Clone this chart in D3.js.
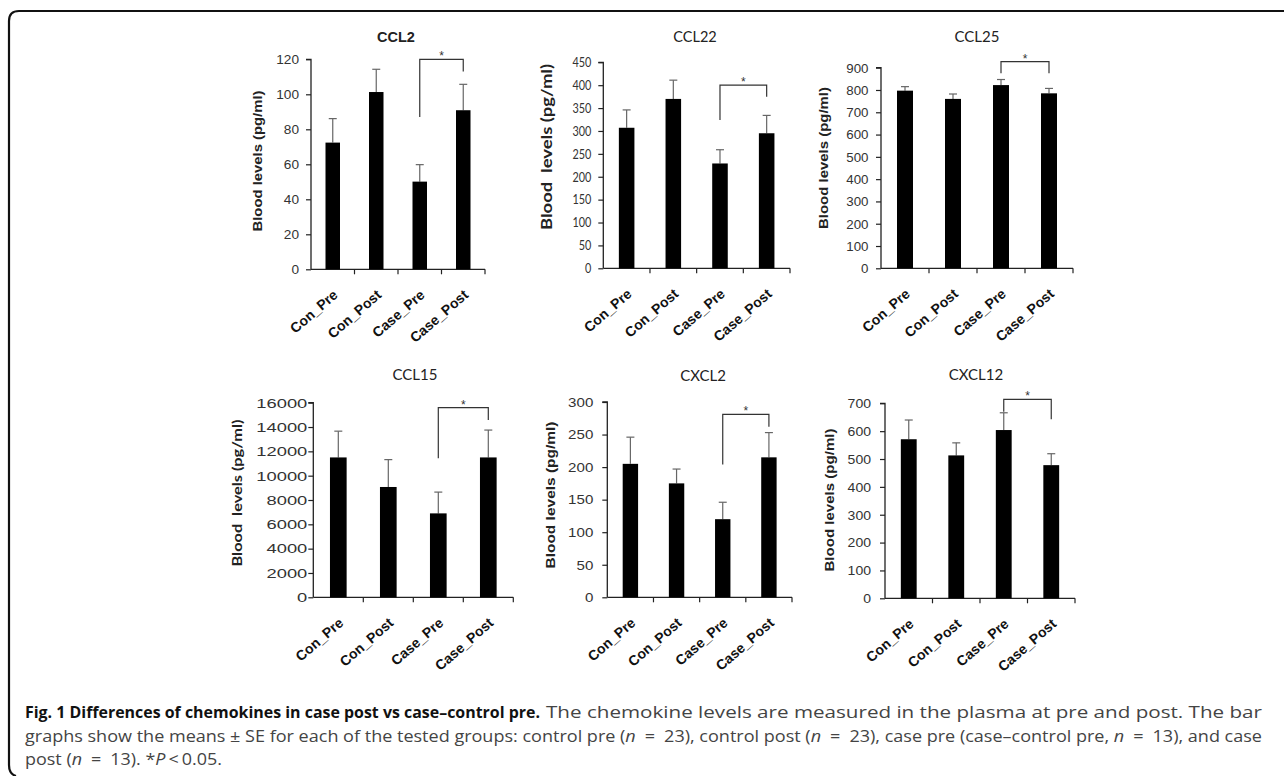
<!DOCTYPE html>
<html><head><meta charset="utf-8">
<script src="https://cdn.jsdelivr.net/npm/d3@7"></script>
<style>body{margin:0;background:#fff}</style>
</head><body>
<svg id="c" width="1284" height="776" xmlns="http://www.w3.org/2000/svg"></svg>
<script>
// ---------- DATA ----------
const categories = ["Con_Pre", "Con_Post", "Case_Pre", "Case_Post"];
const panelTitles = ["CCL2", "CCL22", "CCL25", "CCL15", "CXCL2", "CXCL12"];
const yAxisLabels = ["Blood levels (pg/ml)", "Blood  levels (pg/ml)", "Blood levels (pg/ml)",
                     "Blood  levels (pg/ml)", "Blood levels (pg/ml)", "Blood levels (pg/ml)"];

const ccl2Mean   = [72.4, 101.3, 50.1, 90.9];
const ccl2SE     = [13.7, 13.0, 9.7, 14.8];
const ccl22Mean  = [307, 370, 229, 295];
const ccl22SE    = [39, 41, 30, 39];
const ccl25Mean  = [797, 760, 822, 785];
const ccl25SE    = [18, 22, 25, 22];
const ccl15Mean  = [11500, 9070, 6900, 11500];
const ccl15SE    = [2160, 2250, 1750, 2250];
const cxcl2Mean  = [205, 175, 120, 215];
const cxcl2SE    = [41, 22, 26, 38];
const cxcl12Mean = [571, 513, 604, 478];
const cxcl12SE   = [69, 45, 62, 41];

const yMaxes = [120, 450, 900, 16000, 300, 700];
const yTickSteps = [20, 50, 100, 2000, 50, 100];

// significance bracket (Case_Pre vs Case_Post), in data units
const sigTop      = [120, 400, 927, 15600, 281, 714];
const sigLeftEnd  = [87, 324, 875, 11425, 204, 670];
const sigRightEnd = [113, 375, 875, 14575, 262, 643];
const sigLabel = "*";

const captionBold = "Fig. 1 Differences of chemokines in case post vs case\u2013control pre.";
const captionRest1 = "The chemokine levels are measured in the plasma at pre and post. The bar";
const captionLine2 = [["graphs show the means \u00b1 SE for each of the tested groups: control pre (", "n"], ["n", "i"], ["\u2002=\u200223), control post (", "n"], ["n", "i"],
   ["\u2002=\u200223), case pre (case\u2013control pre, ", "n"], ["n", "i"], ["\u2002=\u200213), and case", "n"]];
const captionLine3 = [["post (", "n"], ["n", "i"], ["\u2002=\u200213). *", "n"], ["P", "i"], ["\u2009<\u20090.05.", "n"]];

const means = [ccl2Mean, ccl22Mean, ccl25Mean, ccl15Mean, cxcl2Mean, cxcl12Mean];
const ses = [ccl2SE, ccl22SE, ccl25SE, ccl15SE, cxcl2SE, cxcl12SE];

// ---------- LAYOUT / STYLE ----------
const ARIAL = "'Liberation Sans', Arial, sans-serif";
const CALIBRI = "Lato, 'Open Sans', sans-serif";
const CAP = "'Open Sans', 'Noto Sans', sans-serif";
const layout = [
  {x0:311, x1:485, yTop:59.3, yBot:269.3, tx:396, ty:42, tFont:ARIAL, tW:"bold", tS:14.5,
   lx:262, ly:161, lFont:ARIAL, lS:12.5, lLen:141, tickFont:ARIAL, tickS:13, digitW:7.6, gap:12},
  {x0:603.3, x1:790, yTop:62.3, yBot:268.3, tx:695, ty:42, tFont:CALIBRI, tW:"normal", tS:14.5,
   lx:552, ly:147, lFont:CALIBRI, lS:14.5, lLen:166, tickFont:CALIBRI, tickS:13.5, digitW:6.3, gap:12},
  {x0:881, x1:1073, yTop:67.7, yBot:268.3, tx:977, ty:42, tFont:CALIBRI, tW:"normal", tS:15,
   lx:828, ly:158, lFont:ARIAL, lS:13, lLen:142, tickFont:ARIAL, tickS:13.5, digitW:7.4, gap:12.5},
  {x0:313.3, x1:513.3, yTop:402.7, yBot:597.3, tx:415, ty:380, tFont:CALIBRI, tW:"normal", tS:15,
   lx:242, ly:493, lFont:CALIBRI, lS:13.5, lLen:147, tickFont:ARIAL, tickS:13.5, digitW:10.2, gap:6},
  {x0:607.3, x1:792, yTop:402, yBot:597.3, tx:703, ty:381, tFont:CALIBRI, tW:"normal", tS:15,
   lx:555, ly:495, lFont:ARIAL, lS:13, lLen:147, tickFont:ARIAL, tickS:13.5, digitW:8.4, gap:14},
  {x0:885, x1:1075, yTop:403.3, yBot:598.3, tx:976, ty:380, tFont:CALIBRI, tW:"normal", tS:15,
   lx:834, ly:500, lFont:ARIAL, lS:13, lLen:143, tickFont:ARIAL, tickS:13.5, digitW:7.8, gap:14}
];

const svg = d3.select("#c");

// frame
svg.append("path")
  .attr("d", "M1284,11 L19,11 Q9,11 9,21 L9,765 Q9,774 16,776")
  .attr("fill", "none").attr("stroke", "#111").attr("stroke-width", 2.2);

layout.forEach((L, i) => {
  const g = svg.append("g");
  const x = d3.scaleBand().domain(categories).range([L.x0, L.x1]).padding(0);
  const y = d3.scaleLinear().domain([0, yMaxes[i]]).range([L.yBot, L.yTop]);
  const bw = x.bandwidth() / 3;

  // y axis
  const yAxis = d3.axisLeft(y).tickValues(d3.range(0, yMaxes[i] + 1e-9, yTickSteps[i]))
    .tickSize(5).tickPadding(L.gap - 5).tickFormat(d3.format("d"));
  const ya = g.append("g").attr("transform", `translate(${L.x0},0)`).call(yAxis);
  ya.select(".domain").attr("stroke", "#222").attr("stroke-width", 1.3).attr("d", `M-5,${L.yTop}H0V${L.yBot}`);
  ya.selectAll(".tick line").attr("stroke", "#222").attr("stroke-width", 1.2);
  ya.selectAll(".tick text").attr("font-family", L.tickFont).attr("font-size", L.tickS).attr("fill", "#333")
    .each(function(d) {
      const s = String(d);
      d3.select(this).attr("textLength", s.length * L.digitW).attr("lengthAdjust", "spacingAndGlyphs");
    });

  // x axis
  const bounds = categories.map(c => x(c)).concat([L.x1]);
  g.append("line").attr("x1", L.x0).attr("x2", L.x1).attr("y1", L.yBot).attr("y2", L.yBot)
    .attr("stroke", "#222").attr("stroke-width", 1.3);
  g.selectAll(".xt").data(bounds.slice(1)).join("line")
    .attr("x1", d => d).attr("x2", d => d).attr("y1", L.yBot).attr("y2", L.yBot + 5)
    .attr("stroke", "#222").attr("stroke-width", 1.2);

  g.selectAll(".xl").data(categories).join("text")
    .attr("transform", c => `translate(${x(c) + x.bandwidth()/2 + 6},${L.yBot + 27}) rotate(-41)`)
    .attr("text-anchor", "end")
    .attr("font-family", ARIAL).attr("font-weight", "bold").attr("font-size", 14).attr("fill", "#111")
    .text(c => c);

  // error bars
  const cx = c => x(c) + x.bandwidth() / 2;
  categories.forEach((c, k) => {
    const top = y(means[i][k] + ses[i][k]);
    g.append("line").attr("x1", cx(c)).attr("x2", cx(c)).attr("y1", y(means[i][k])).attr("y2", top)
      .attr("stroke", "#666").attr("stroke-width", 1.2);
    g.append("line").attr("x1", cx(c) - 4).attr("x2", cx(c) + 4).attr("y1", top).attr("y2", top)
      .attr("stroke", "#666").attr("stroke-width", 1.2);
  });

  // bars
  g.selectAll(".bar").data(categories).join("rect")
    .attr("x", c => cx(c) - bw / 2).attr("width", bw)
    .attr("y", (c, k) => y(means[i][k])).attr("height", (c, k) => L.yBot - y(means[i][k]))
    .attr("fill", "#000");

  // significance bracket
  const xl = cx("Case_Pre"), xr = cx("Case_Post");
  g.append("path")
    .attr("d", `M${xl},${y(sigLeftEnd[i])}V${y(sigTop[i])}H${xr}V${y(sigRightEnd[i])}`)
    .attr("fill", "none").attr("stroke", "#333").attr("stroke-width", 1.2);
  g.append("text").attr("x", (xl + xr) / 2).attr("y", y(sigTop[i]) + 1)
    .attr("text-anchor", "middle").attr("font-family", ARIAL).attr("font-size", 12).attr("fill", "#333")
    .text(sigLabel);

  // title
  g.append("text").attr("x", L.tx).attr("y", L.ty).attr("text-anchor", "middle")
    .attr("font-family", L.tFont).attr("font-weight", L.tW).attr("font-size", L.tS).attr("fill", "#222")
    .text(panelTitles[i]);

  // y label
  g.append("text").attr("transform", `translate(${L.lx},${L.ly}) rotate(-90)`)
    .attr("text-anchor", "middle").attr("font-family", L.lFont).attr("font-weight", "bold")
    .attr("font-size", L.lS).attr("fill", "#222")
    .attr("textLength", L.lLen).attr("lengthAdjust", "spacingAndGlyphs")
    .style("white-space", "pre")
    .text(yAxisLabels[i]);
});

// caption
const capX0 = 25, capX1 = 1262, capY = [718, 742, 765], capS = 16.5;
// line 1
svg.append("text").attr("x", capX0).attr("y", capY[0])
  .attr("font-family", CAP).attr("font-size", capS).attr("font-weight", "bold").attr("fill", "#111")
  .attr("textLength", 515).attr("lengthAdjust", "spacingAndGlyphs").text(captionBold);
svg.append("text").attr("x", 546).attr("y", capY[0])
  .attr("font-family", CAP).attr("font-size", capS).attr("fill", "#444")
  .attr("textLength", capX1 - 546).attr("lengthAdjust", "spacingAndGlyphs").text(captionRest1);
// line 2 & 3
const capLens = [capX1 - capX0, 197];
[captionLine2, captionLine3].forEach((segs, j) => {
  const t = svg.append("text").attr("x", capX0).attr("y", capY[j + 1])
    .attr("font-family", CAP).attr("font-size", capS).attr("fill", "#444").style("white-space", "pre")
    .attr("textLength", capLens[j]).attr("lengthAdjust", "spacingAndGlyphs");
  segs.forEach(([s, st]) => {
    t.append("tspan").text(s).attr("font-style", st === "i" ? "italic" : "normal");
  });
});
</script>
</body></html>
